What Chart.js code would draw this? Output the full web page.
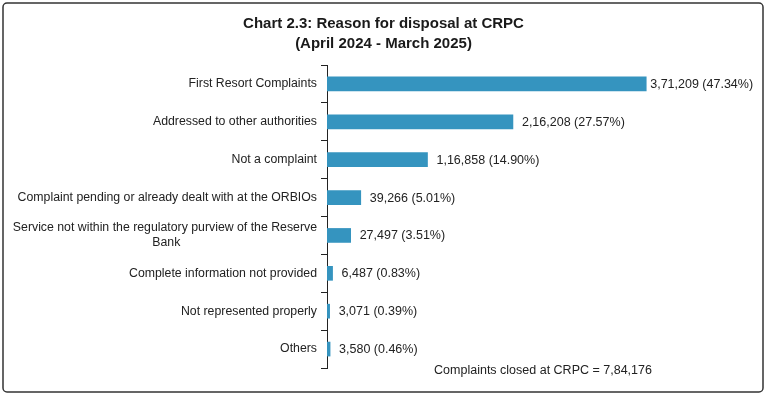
<!DOCTYPE html>
<html>
<head>
<meta charset="utf-8">
<script src="https://cdn.jsdelivr.net/npm/chart.js@4.4.1/dist/chart.umd.min.js"></script>
<style>
  html, body { margin: 0; padding: 0; background: #fff; overflow: hidden; }
  #wrap { position: relative; width: 766px; height: 396px; }
</style>
</head>
<body>
<div id="wrap"><canvas id="c"></canvas></div>
<script>
const titleLines = ['Chart 2.3: Reason for disposal at CRPC', '(April 2024 - March 2025)'];
const categories = [
  'First Resort Complaints',
  'Addressed to other authorities',
  'Not a complaint',
  'Complaint pending or already dealt with at the ORBIOs',
  ['Service not within the regulatory purview of the Reserve', 'Bank' + ' '.repeat(40)],
  'Complete information not provided',
  'Not represented properly',
  'Others'
];
const values = [371209, 216208, 116858, 39266, 27497, 6487, 3071, 3580];
const shares = ['47.34', '27.57', '14.90', '5.01', '3.51', '0.83', '0.39', '0.46'];
const totalClosed = 784176;
const footnoteText = 'Complaints closed at CRPC = ';

function inr(n) {
  const s = String(n);
  if (s.length <= 3) return s;
  const last3 = s.slice(-3);
  const rest = s.slice(0, -3);
  return rest.replace(/\B(?=(\d{2})+(?!\d))/g, ',') + ',' + last3;
}

const FONT = '"Liberation Sans", Arial, Helvetica, sans-serif';
const TXT = '#222222';

const decor = {
  id: 'decor',
  afterDatasetsDraw(chart) {
    const ctx = chart.ctx;
    const meta = chart.getDatasetMeta(0);
    ctx.save();
    ctx.font = '12.5px ' + FONT;
    ctx.fillStyle = TXT;
    ctx.textBaseline = 'middle';
    ctx.textAlign = 'left';
    meta.data.forEach((bar, i) => {
      const label = inr(values[i]) + ' (' + shares[i] + '%)';
      const off = i === 0 ? 4 : 9;
      ctx.fillText(label, bar.x + off, bar.y + 0.5);
    });
    const ca = chart.chartArea;
    ctx.textAlign = 'center';
    ctx.fillText(footnoteText + inr(totalClosed), ca.left + 216, ca.bottom + 2.5);
    ctx.restore();
  },
  afterDraw(chart) {
    const ctx = chart.ctx;
    ctx.save();
    ctx.strokeStyle = '#333';
    ctx.lineWidth = 1.5;
    ctx.beginPath();
    ctx.roundRect(3, 3, 760, 389, 4);
    ctx.stroke();
    ctx.restore();
  }
};

new Chart(document.getElementById('c'), {
  type: 'bar',
  data: {
    labels: categories,
    datasets: [{
      data: values,
      backgroundColor: '#3594BF',
      borderWidth: 0,
      barThickness: 14
    }]
  },
  options: {
    indexAxis: 'y',
    responsive: true,
    maintainAspectRatio: false,
    animation: false,
    layout: { padding: { left: 10, right: 9, top: 0, bottom: 28 } },
    plugins: {
      legend: { display: false },
      tooltip: { enabled: false },
      title: {
        display: true,
        text: titleLines,
        color: '#1a1a1a',
        font: { family: FONT, size: 15, weight: 'bold', lineHeight: 1.35 },
        padding: { top: 13.5, bottom: 11 }
      }
    },
    scales: {
      x: {
        display: false,
        min: 0,
        max: 500000
      },
      y: {
        afterFit(scale) { scale.width = 317; },
        ticks: {
          color: TXT,
          padding: 4,
          font: { family: FONT, size: 12.3, lineHeight: 1.22 },
          autoSkip: false
        },
        grid: {
          display: true,
          drawOnChartArea: false,
          drawTicks: true,
          tickLength: 6,
          offset: true,
          color: '#222'
        },
        border: { display: true, color: '#222', width: 1 }
      }
    }
  },
  plugins: [decor]
});
</script>
</body>
</html>
